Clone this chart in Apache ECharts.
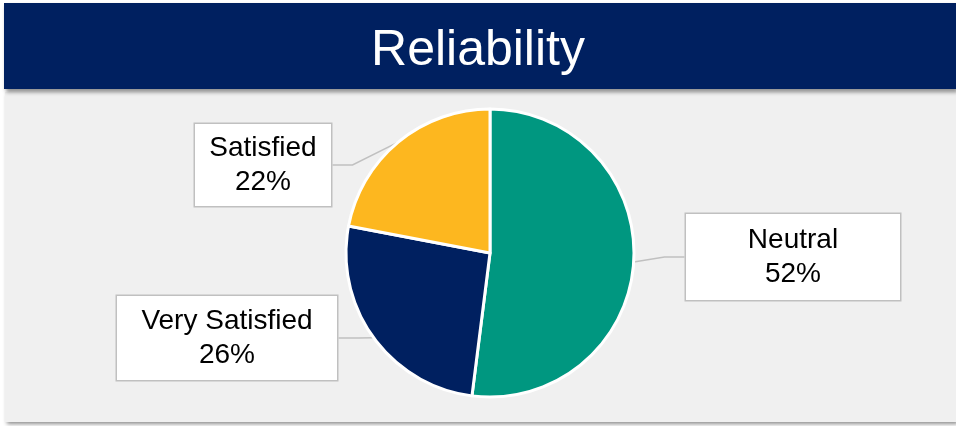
<!DOCTYPE html>
<html><head><meta charset="utf-8">
<script src="https://cdn.jsdelivr.net/npm/echarts@6/dist/echarts.min.js"></script>
<style>html,body{margin:0;padding:0;background:#fff}#c{width:956px;height:426px}</style>
</head><body><div id="c"></div>
<script>
const titleText = 'Reliability';
const categories = ['Neutral', 'Very Satisfied', 'Satisfied'];
const values = [52, 26, 22];
const colors = ['#009780', '#002060', '#FDB71F'];
// label box centres and sizes (layout, not data)
const boxes = [
  {x: 793, y: 257, w: 214, h: 86},
  {x: 227, y: 338, w: 220, h: 84},
  {x: 263, y: 165, w: 136, h: 82}
];
const LH = 34;
const chart = echarts.init(document.getElementById('c'), null, {renderer: 'canvas'});
const data = categories.map((c, i) => ({
  name: c, value: values[i],
  itemStyle: {color: colors[i]},
  label: {width: boxes[i].w, padding: [(boxes[i].h - 2 * LH) / 2, 0]}
}));
chart.setOption({
  animation: false,
  graphic: [
    {type: 'rect', shape: {x: 5, y: 92, width: 951, height: 330}, style: {fill: '#f0f0f0', shadowBlur: 4, shadowOffsetX: 2, shadowOffsetY: 2, shadowColor: 'rgba(0,0,0,0.45)'}, z: -10},
    {type: 'rect', shape: {x: 4, y: 3, width: 952, height: 86}, style: {fill: '#002060', shadowBlur: 4, shadowOffsetX: 2, shadowOffsetY: 3, shadowColor: 'rgba(0,0,0,0.45)'}, z: -5}
  ],
  title: {
    text: titleText, left: 'center', top: 21,
    textStyle: {color: '#fff', fontSize: 50, fontWeight: 'normal', fontFamily: 'Liberation Sans, Arial'}
  },
  series: [{
    type: 'pie',
    center: [490, 253], radius: 144,
    startAngle: 90, clockwise: true,
    data: data,
    itemStyle: {borderColor: '#fff', borderWidth: 3},
    label: {
      show: true, position: 'outside',
      formatter: p => p.name + '\n' + p.percent + '%',
      color: '#000', fontSize: 28, lineHeight: LH,
      fontFamily: 'Liberation Sans, Arial, sans-serif',
      align: 'center', verticalAlign: 'middle',
      backgroundColor: '#fff', borderColor: '#c0c0c0', borderWidth: 1.5
    },
    labelLine: {show: true, smooth: false, length: 20, length2: 20, lineStyle: {color: '#c0c0c0', width: 1.5}},
    labelLayout: p => ({x: boxes[p.dataIndex].x, y: boxes[p.dataIndex].y, align: 'center', verticalAlign: 'middle'}),
    emphasis: {disabled: true}
  }]
});
</script></body></html>
